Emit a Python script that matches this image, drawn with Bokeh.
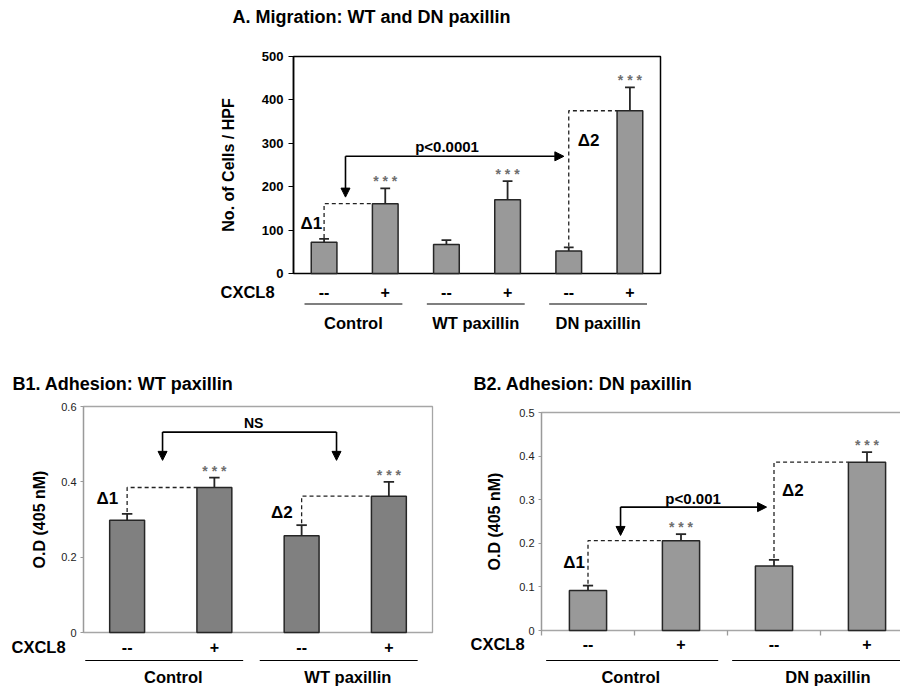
from bokeh.plotting import figure
from bokeh.models import Range1d, LinearAxis, FixedTicker, Arrow, NormalHead
from bokeh.layouts import column, row
from bokeh.embed import file_html
from bokeh.resources import INLINE
from bokeh.core.properties import value

FONT = "Liberation Sans"

# ---------------- data ----------------
cxcl8 = ["--", "+", "--", "+", "--", "+"]

a_groups = ["Control", "WT paxillin", "DN paxillin"]
a_means = [72, 161, 67, 170, 52, 375]
a_errs = [8, 35, 10, 43, 8, 54]
a_sig = ["", "* * *", "", "* * *", "", "* * *"]
a_ticks = [0, 100, 200, 300, 400, 500]

b1_groups = ["Control", "WT paxillin"]
b1_means = [0.298, 0.385, 0.257, 0.362]
b1_errs = [0.017, 0.026, 0.028, 0.038]
b1_sig = ["", "* * *", "", "* * *"]
b1_ticks = [0, 0.2, 0.4, 0.6]

b2_groups = ["Control", "DN paxillin"]
b2_means = [0.092, 0.206, 0.148, 0.386]
b2_errs = [0.011, 0.015, 0.014, 0.023]
b2_sig = ["", "* * *", "", "* * *"]
b2_ticks = [0, 0.1, 0.2, 0.3, 0.4, 0.5]

# significance brackets: (label, level, arrow tip, x start, x end)
a_bracket = ("p<0.0001", 270, 176, 0.85, 4.42)
b1_bracket = ("NS", 0.532, 0.457, 0.906, 2.90)
b2_bracket = ("p<0.001", 0.283, 0.218, 0.85, 2.42)


def make_panel(fig_box, plot_box, ymax, n):
    fx, fy, fw, fh = fig_box
    left, right, top, bottom = plot_box
    cw = (right - left) / n
    ppu = (bottom - top) / ymax
    X = lambda px: (px - left) / cw
    Y = lambda py: (bottom - py) / ppu
    p = figure(width=fw, height=fh,
               x_range=Range1d(X(fx), X(fx + fw)),
               y_range=Range1d(Y(fy + fh), Y(fy)),
               x_axis_location=None, y_axis_location=None,
               toolbar_location=None, output_backend="svg",
               min_border=0, outline_line_color=None)
    p.grid.grid_line_color = None
    return p, X, Y, ppu


def txt(p, xs, ys, ts, size, color="black", bold=True, align="center",
        baseline="middle", xoff=0, yoff=0):
    p.text(x=xs, y=ys, text=ts, text_font=value(FONT),
           text_font_size=value(f"{size}px"),
           text_font_style="bold" if bold else "normal",
           text_color=color, text_align=align, text_baseline=baseline,
           x_offset=xoff, y_offset=yoff)


def bars(p, means, errs, sig, fill, bw, cap):
    xs = [i + 0.5 for i in range(len(means))]
    tops = [m + e for m, e in zip(means, errs)]
    p.vbar(x=xs, top=means, bottom=0, width=bw, fill_color=fill,
           line_color="#262626", line_width=1.5)
    p.segment(x0=xs, y0=means, x1=xs, y1=tops, line_color="#262626", line_width=1.8)
    p.segment(x0=[x - cap for x in xs], y0=tops, x1=[x + cap for x in xs], y1=tops,
              line_color="#262626", line_width=1.8)
    sx = [x for x, s in zip(xs, sig) if s]
    sy = [t for t, s in zip(tops, sig) if s]
    st = [s for s in sig if s]
    txt(p, sx, sy, st, 14, color="#6e6e6e", bold=True, yoff=-7)
    return xs, tops


def delta(p, xs, means, tops, i, j, bw, gap):
    xv = xs[i]
    p.line(x=[xv, xv, xs[j] - bw / 2], y=[tops[i] + gap, means[j], means[j]],
           line_color="#222222", line_width=1.3, line_dash="4 3")


def bracket(p, spec, both):
    lab, lvl, tip, x0, x1 = spec
    head = lambda: NormalHead(size=9, fill_color="black", line_color="black", line_width=1)
    p.add_layout(Arrow(end=head(), x_start=x0, y_start=lvl, x_end=x0, y_end=tip,
                       line_width=1.6, line_color="black"))
    if both:
        p.segment(x0=[x0], y0=[lvl], x1=[x1], y1=[lvl], line_color="black", line_width=1.6)
        p.add_layout(Arrow(end=head(), x_start=x1, y_start=lvl, x_end=x1, y_end=tip,
                           line_width=1.6, line_color="black"))
    else:
        p.add_layout(Arrow(end=head(), x_start=x0, y_start=lvl, x_end=x1, y_end=lvl,
                           line_width=1.6, line_color="black"))
    return lab, lvl


def y_axis(p, ticks, ymax, label, tsize, tbold, lcolor, standoff, tick_out, overrides=None):
    ax = LinearAxis(fixed_location=0, bounds=(0, ymax), ticker=FixedTicker(ticks=ticks),
                    axis_label=label, axis_label_text_font=FONT,
                    axis_label_text_font_size="16px", axis_label_text_font_style="bold",
                    axis_label_text_color="black", axis_label_standoff=standoff,
                    major_label_text_font=FONT, major_label_text_font_size=f"{tsize}px",
                    major_label_text_font_style="bold" if tbold else "normal",
                    major_label_text_color="black" if tbold else "#222222",
                    major_label_standoff=5 if tbold else 4,
                    axis_line_color=lcolor, axis_line_width=1.5 if tbold else 1.3,
                    major_tick_line_color=lcolor, major_tick_out=tick_out, major_tick_in=0,
                    minor_tick_line_color=None)
    if overrides:
        ax.major_label_overrides = overrides
    p.add_layout(ax, "left")


# ================= Panel A =================
pA, XA, YA, ppuA = make_panel((0, 0, 900, 368), (293, 660, 56, 273), 500, 6)
pA.quad(left=[0], right=[6], bottom=[0], top=[500], fill_color=None,
        line_color="black", line_width=1.5)
y_axis(pA, a_ticks, 500, "No. of Cells / HPF", 13, True, "black", 22, 5)
bwA = 0.42
xsA, topsA = bars(pA, a_means, a_errs, a_sig, "#999999", bwA, 0.08)
delta(pA, xsA, a_means, topsA, 0, 1, bwA, 2)
delta(pA, xsA, a_means, topsA, 4, 5, bwA, 2)
txt(pA, [xsA[0]], [116], ["Δ1"], 17, align="right", xoff=-2)
txt(pA, [xsA[4]], [306], ["Δ2"], 17, align="left", xoff=9)
lab, lvl = bracket(pA, a_bracket, False)
txt(pA, [2.51], [lvl + 23], [lab], 15)
txt(pA, [XA(220)], [YA(291)], ["CXCL8"], 16.5, align="left")
txt(pA, xsA, [YA(291)] * 6, cxcl8, 16)
pA.segment(x0=[2 * g + 0.18 for g in range(3)], y0=[YA(303.5)] * 3,
           x1=[2 * g + 1.78 for g in range(3)], y1=[YA(303.5)] * 3,
           line_color="black", line_width=1.2)
txt(pA, [2 * g + 0.98 for g in range(3)], [YA(322.5)] * 3, a_groups, 16.5)
txt(pA, [XA(232)], [YA(16)], ["A. Migration: WT and DN paxillin"], 18, align="left")

# ================= Panel B1 =================
pB1, XB1, YB1, ppuB1 = make_panel((0, 368, 451, 318), (83, 432, 406, 632), 0.6, 4)
pB1.quad(left=[0], right=[4], bottom=[0], top=[0.6], fill_color=None,
         line_color="#a6a6a6", line_width=1.3)
y_axis(pB1, b1_ticks, 0.6, "O.D (405 nM)", 11, False, "#9a9a9a", 10, 3, {0: "0"})
bwB1 = 0.40
xsB1, topsB1 = bars(pB1, b1_means, b1_errs, b1_sig, "#808080", bwB1, 0.06)
delta(pB1, xsB1, b1_means, topsB1, 0, 1, bwB1, 0.005)
delta(pB1, xsB1, b1_means, topsB1, 2, 3, bwB1, 0.005)
txt(pB1, [xsB1[0]], [0.356], ["Δ1"], 17, align="right", xoff=-9)
txt(pB1, [xsB1[2]], [0.319], ["Δ2"], 17, align="right", xoff=-9)
lab, lvl = bracket(pB1, b1_bracket, True)
txt(pB1, [1.95], [lvl + 0.024], [lab], 14)
txt(pB1, [XB1(11)], [YB1(646)], ["CXCL8"], 16.5, align="left")
txt(pB1, xsB1, [YB1(646)] * 4, cxcl8[:4], 16)
pB1.segment(x0=[2 * g + 0.02 for g in range(2)], y0=[YB1(660)] * 2,
            x1=[2 * g + 1.83 for g in range(2)], y1=[YB1(660)] * 2,
            line_color="black", line_width=1.2)
txt(pB1, [2 * g + 1.03 for g in range(2)], [YB1(676)] * 2, b1_groups, 16.5)
txt(pB1, [XB1(12)], [YB1(383)], ["B1. Adhesion: WT paxillin"], 18, align="left")

# ================= Panel B2 =================
pB2, XB2, YB2, ppuB2 = make_panel((451, 368, 449, 318), (541, 913, 412, 630), 0.5, 4)
pB2.quad(left=[0], right=[4], bottom=[0], top=[0.5], fill_color=None,
         line_color="#a6a6a6", line_width=1.3)
y_axis(pB2, b2_ticks, 0.5, "O.D (405 nM)", 11, False, "#9a9a9a", 13, 3, {0: "0"})
# category boundary ticks on the x axis
bnd = list(range(len(b2_means) + 1))
pB2.segment(x0=bnd, y0=[0] * len(bnd), x1=bnd, y1=[-5 / ppuB2] * len(bnd),
            line_color="#9a9a9a", line_width=1.3)
bwB2 = 0.40
xsB2, topsB2 = bars(pB2, b2_means, b2_errs, b2_sig, "#999999", bwB2, 0.055)
delta(pB2, xsB2, b2_means, topsB2, 0, 1, bwB2, 0.004)
delta(pB2, xsB2, b2_means, topsB2, 2, 3, bwB2, 0.004)
txt(pB2, [xsB2[0]], [0.157], ["Δ1"], 17, align="right", xoff=-3)
txt(pB2, [xsB2[2]], [0.321], ["Δ2"], 17, align="left", xoff=8)
lab, lvl = bracket(pB2, b2_bracket, False)
txt(pB2, [1.63], [lvl + 0.019], [lab], 15)
txt(pB2, [XB2(470)], [YB2(643)], ["CXCL8"], 16.5, align="left")
txt(pB2, xsB2, [YB2(643)] * 4, cxcl8[:4], 16)
pB2.segment(x0=[2 * g + 0.05 for g in range(2)], y0=[YB2(660)] * 2,
            x1=[2 * g + 1.9 for g in range(2)], y1=[YB2(660)] * 2,
            line_color="black", line_width=1.2)
txt(pB2, [0.96, 3.08], [YB2(676)] * 2, b2_groups, 16.5)
txt(pB2, [XB2(473)], [YB2(383)], ["B2. Adhesion: DN paxillin"], 18, align="left")

layout = column(pA, row(pB1, pB2))
open("out.html", "w").write(file_html(layout, INLINE))
